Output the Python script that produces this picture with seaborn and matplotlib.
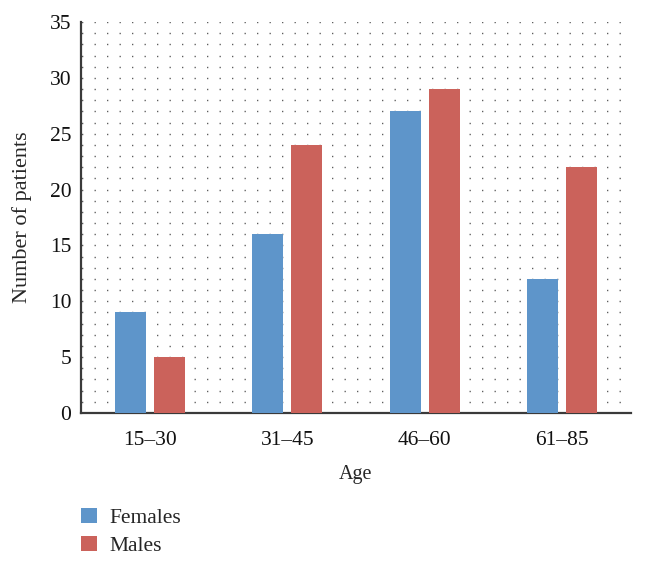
import matplotlib
matplotlib.use("Agg")
import matplotlib.pyplot as plt
import seaborn as sns
import pandas as pd
from matplotlib.ticker import MultipleLocator

# Data
age_groups = ["15–30", "31–45", "46–60", "61–85"]
females = [9, 16, 27, 12]
males = [5, 24, 29, 22]
series_names = ["Females", "Males"]
colors = ["#5e95ca", "#cb625b"]

df = pd.DataFrame(
    {
        "Age": age_groups * 2,
        "Count": females + males,
        "Sex": [series_names[0]] * len(age_groups) + [series_names[1]] * len(age_groups),
    }
)

sns.set_style("white")
plt.rcParams["font.family"] = ["Liberation Serif", "DejaVu Serif"]

fig = plt.figure(figsize=(6.45, 5.66), dpi=100)
ax = fig.add_axes([81 / 645, 1 - 413 / 566, 550 / 645, 391 / 566])

sns.barplot(
    data=df,
    x="Age",
    y="Count",
    hue="Sex",
    palette=colors,
    saturation=1,
    width=0.567,
    gap=0.205,
    linewidth=0,
    ax=ax,
    zorder=3,
)

ax.set_ylim(0, 35)
ax.set_xlim(-0.5, len(age_groups) - 0.5)
ax.yaxis.set_major_locator(MultipleLocator(5))
ax.yaxis.set_minor_locator(MultipleLocator(1))

# dotted background grid
ax.grid(which="both", axis="y", color="#555555", linewidth=1.0,
        linestyle=(8.6, (0.9, 8.1)), zorder=0)
ax.set_axisbelow(True)

for side in ["top", "right"]:
    ax.spines[side].set_visible(False)
for side in ["left", "bottom"]:
    ax.spines[side].set_color("#3a3a3a")
    ax.spines[side].set_linewidth(1.6)

ax.tick_params(axis="both", which="both", length=0, labelsize=15.5, colors="#111111")
ax.tick_params(axis="x", pad=13)
ax.tick_params(axis="y", pad=7)

ax.set_xlabel("Age", fontsize=14.5, labelpad=11)
ax.set_ylabel("Number of patients", fontsize=16, labelpad=13)

sns.move_legend(
    ax,
    "upper left",
    bbox_to_anchor=(-0.016, -0.22),
    title=None,
    frameon=False,
    fontsize=15.5,
    handlelength=0.75,
    handleheight=0.75,
    handletextpad=0.6,
    labelspacing=0.35,
    borderaxespad=0,
)

fig.savefig("out.png", dpi=100)
